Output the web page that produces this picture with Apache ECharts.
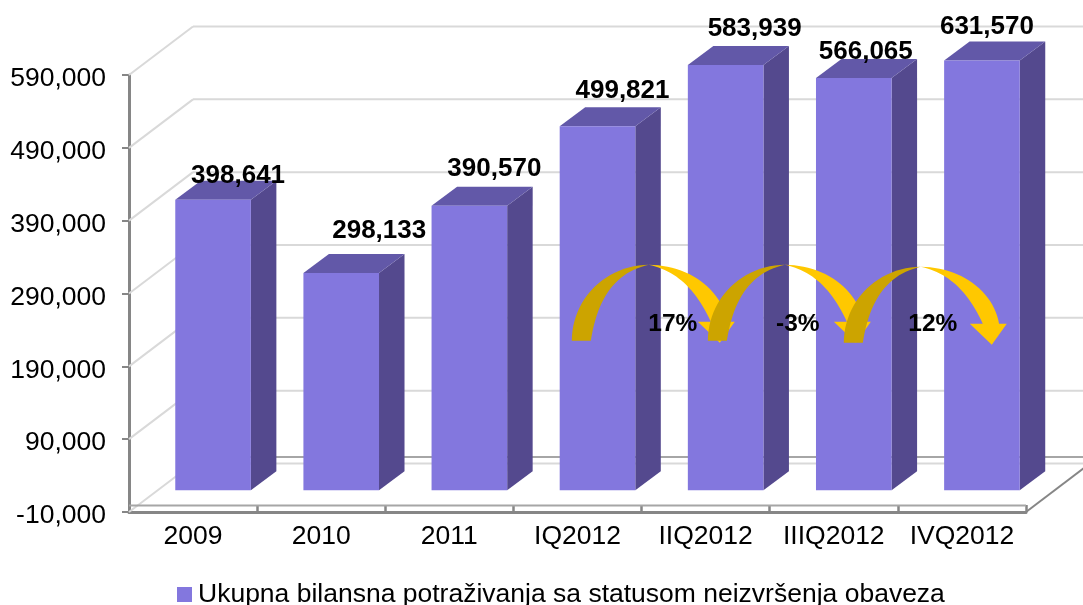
<!DOCTYPE html>
<html>
	<head>
		<meta http-equiv="content-type" content="text/html; charset=utf-8">
		<script src="https://cdn.jsdelivr.net/npm/echarts@6/dist/echarts.min.js"></script>
		<style>
			html, body { margin: 0; padding: 0; background: #ffffff; }
			#chart { width: 1083px; height: 605px; }
		</style>
		<title>Ukupna bilansna potraživanja</title>
	</head>
	<body>
		<div id="chart"></div>
		<script type="text/javascript">
///////////////////////////////////////////////////////////////////////////////
// data
var categories = ['2009', '2010', '2011', 'IQ2012', 'IIQ2012', 'IIIQ2012', 'IVQ2012'];
var values = [398641, 298133, 390570, 499821, 583939, 566065, 631570];
var series_name = 'Ukupna bilansna potraživanja sa statusom neizvršenja obaveza';
var growth_labels = ['17%', '-3%', '12%'];
var growth_from = [3, 4, 5];

///////////////////////////////////////////////////////////////////////////////
// axis range
var axis_min = -10000;
var axis_max = 590000;
var axis_step = 100000;
var tick_values = [-10000, 90000, 190000, 290000, 390000, 490000, 590000];

///////////////////////////////////////////////////////////////////////////////
// 3d look, all in pixels relative to the axes
var wall_depth = [64, -48.5];
var bar_shift = [20, -14.5];
var bar_depth = [25.5, -19];
var bar_width_ratio = 0.59;
var floor_lift = 6.5;

// label nudges from the top of the front face
var label_nudge = [[25, -24], [38, -42], [25, -37], [25, -35], [29, -36], [12, -26], [5, -34]];

// arrows: base left corner relative to the source bar, at arrow_value
var arrow_value = 225000;
var arrow_nudge = [[-25.7, 0], [-17.8, 0], [-10, 2]];
var arrow_label_x = [101, 90, 89];

var front_color = '#8377de';
var top_color = '#6258a8';
var side_color = '#54498e';
var grid_color = '#d9d9d9';
var axis_color = '#868686';
var font_name = '"Liberation Sans", Arial, sans-serif';

///////////////////////////////////////////////////////////////////////////////
// helper functions

// part of an ellipse as polygon points, angles in degrees
function arc(cx, cy, rx, ry, a0, a1) {
	var pts = [];
	for (var i = 0; i <= 24; i++) {
		var a = (a0 + (a1 - a0) * i / 24) * Math.PI / 180;
		pts.push([cx + rx * Math.cos(a), cy - ry * Math.sin(a)]);
	}
	return pts;
}

// quadratic curve as polygon points
function curve(p0, p1, p2) {
	var pts = [];
	for (var i = 0; i <= 24; i++) {
		var t = i / 24;
		var u = 1 - t;
		pts.push([
			u * u * p0[0] + 2 * u * t * p1[0] + t * t * p2[0],
			u * u * p0[1] + 2 * u * t * p1[1] + t * t * p2[1]
		]);
	}
	return pts;
}

function poly(points, fill) {
	return { type: 'polygon', shape: { points: points }, style: { fill: fill } };
}

function line(x1, y1, x2, y2, color, width) {
	return {
		type: 'line',
		shape: { x1: x1, y1: y1, x2: x2, y2: y2 },
		style: { stroke: color, lineWidth: width, fill: null }
	};
}

function text(str, x, y, size) {
	return {
		type: 'text',
		style: {
			text: str, x: x, y: y,
			fill: '#000000',
			font: 'bold ' + size + 'px ' + font_name,
			align: 'center', verticalAlign: 'middle',
			textAlign: 'center', textVerticalAlign: 'middle'
		}
	};
}

///////////////////////////////////////////////////////////////////////////////
// renderers

// gridlines on the side and back walls, one per axis tick
function render_wall(params, api) {
	var cs = params.coordSys;
	var y = api.coord([0, api.value(0)])[1];
	var x0 = cs.x;
	var x1 = cs.x + wall_depth[0];
	var x2 = cs.x + cs.width + wall_depth[0];
	var y1 = y + wall_depth[1];
	return {
		type: 'group',
		children: [
			line(x0, y, x1, y1, grid_color, 2),
			line(x1, y1, x2, y1, grid_color, 2)
		]
	};
}

// floor plate at the bottom of the chart
function render_floor(params, api) {
	var cs = params.coordSys;
	var bottom = cs.y + cs.height;
	var right = cs.x + cs.width;
	var lifted = bottom - floor_lift;
	return {
		type: 'group',
		children: [
			line(cs.x + wall_depth[0], lifted + wall_depth[1], right + wall_depth[0], lifted + wall_depth[1], '#a6a6a6', 2),
			line(right, bottom, right + wall_depth[0], bottom + wall_depth[1], axis_color, 2),
			line(cs.x, lifted, right, lifted, '#a6a6a6', 2)
		]
	};
}

// one box, clipped at the top of the axis like the original
function render_bar(params, api) {
	var i = params.dataIndex;
	var val = api.value(1);
	var half = api.size([1, 0])[0] * bar_width_ratio / 2;
	var t = api.coord([i, Math.min(val, axis_max)]);
	var b = api.coord([i, 0]);
	var xl = t[0] + bar_shift[0] - half;
	var xr = t[0] + bar_shift[0] + half;
	var yt = t[1] + bar_shift[1];
	var yb = b[1] + bar_shift[1];
	var dx = bar_depth[0];
	var dy = bar_depth[1];
	return {
		type: 'group',
		children: [
			poly([[xr, yt], [xr + dx, yt + dy], [xr + dx, yb + dy], [xr, yb]], side_color),
			poly([[xl, yt], [xr, yt], [xr + dx, yt + dy], [xl + dx, yt + dy]], top_color),
			poly([[xl, yt], [xr, yt], [xr, yb], [xl, yb]], front_color),
			text(val.toLocaleString('en-US'),
				t[0] + bar_shift[0] + label_nudge[i][0],
				yt + label_nudge[i][1], 26)
		]
	};
}

// curved growth arrow between two bars
function render_arrow(params, api) {
	var i = params.dataIndex;
	var p = api.coord([api.value(0), arrow_value]);
	var x = p[0] + bar_shift[0] + arrow_nudge[i][0];
	var y = p[1] + arrow_nudge[i][1];

	var ax = x + 77;
	var ay = y - 76;
	var neck_y = y - 19;
	var left = arc(ax, y, 77, 76, 180, 90).concat(
		curve([ax, ay], [ax - 48, ay + 10], [x + 19, y])
	);
	var right = arc(ax, y - 10, 79, 66, 90, 8).concat(
		[[ax + 78, neck_y], [x + 163, neck_y], [x + 148, y + 2], [x + 126, neck_y], [ax + 62, neck_y]],
		curve([ax + 62, neck_y], [ax + 40, ay + 8], [ax, ay])
	);
	return {
		type: 'group',
		children: [
			poly(right, '#ffc800'),
			poly(left, '#cca400')
		]
	};
}

function render_arrow_label(params, api) {
	var i = params.dataIndex;
	var p = api.coord([api.value(0), arrow_value]);
	return text(growth_labels[i], p[0] + bar_shift[0] + arrow_nudge[i][0] + arrow_label_x[i], p[1] - 17, 24.5);
}

///////////////////////////////////////////////////////////////////////////////
// chart
var chart = echarts.init(document.getElementById('chart'), null, { renderer: 'canvas' });

var bar_data = values.map(function(v, i) { return [i, v]; });
var arrow_data = growth_from.map(function(v) { return [v]; });

chart.setOption({
	animation: false,
	textStyle: { fontFamily: font_name },
	grid: { left: 129, right: 57, top: 75, bottom: 93 },
	legend: {
		left: 172,
		top: 576,
		icon: 'rect',
		itemWidth: 15,
		itemHeight: 15,
		data: [series_name],
		textStyle: { fontSize: 26.5, color: '#000000', fontFamily: font_name, padding: [0, 0, 0, 1] }
	},
	xAxis: {
		type: 'category',
		data: categories,
		axisLine: { onZero: false, lineStyle: { color: axis_color, width: 3 } },
		axisTick: { show: true, inside: true, length: 7, lineStyle: { color: axis_color, width: 2.5 } },
		axisLabel: { interval: 0, fontSize: 26.5, color: '#000000', margin: 11 }
	},
	yAxis: {
		type: 'value',
		min: axis_min,
		max: axis_max,
		interval: axis_step,
		splitLine: { show: false },
		axisLine: { show: true, lineStyle: { color: axis_color, width: 3 } },
		axisTick: { show: true, length: 7, lineStyle: { color: axis_color, width: 2 } },
		axisLabel: {
			fontSize: 26.5, color: '#000000', margin: 23, verticalAlign: 'top', lineHeight: 8,
			formatter: function(v) { return v.toLocaleString('en-US'); }
		}
	},
	series: [
		{
			type: 'custom', name: 'walls', z: 1, silent: true,
			data: tick_values.map(function(v) { return [v]; }),
			encode: { y: 0 },
			renderItem: render_wall
		},
		{
			type: 'custom', name: 'floor', z: 1, silent: true,
			data: [[axis_min]],
			encode: { y: 0 },
			renderItem: render_floor
		},
		{
			type: 'custom', name: series_name, z: 2,
			itemStyle: { color: front_color },
			data: bar_data,
			encode: { x: 0, y: 1 },
			renderItem: render_bar
		},
		{
			type: 'custom', name: 'arrows', z: 3, silent: true,
			data: arrow_data,
			encode: { x: 0 },
			renderItem: render_arrow
		},
		{
			type: 'custom', name: 'arrow labels', z: 4, silent: true,
			data: arrow_data,
			encode: { x: 0 },
			renderItem: render_arrow_label
		}
	]
});
		</script>
	</body>
</html>
